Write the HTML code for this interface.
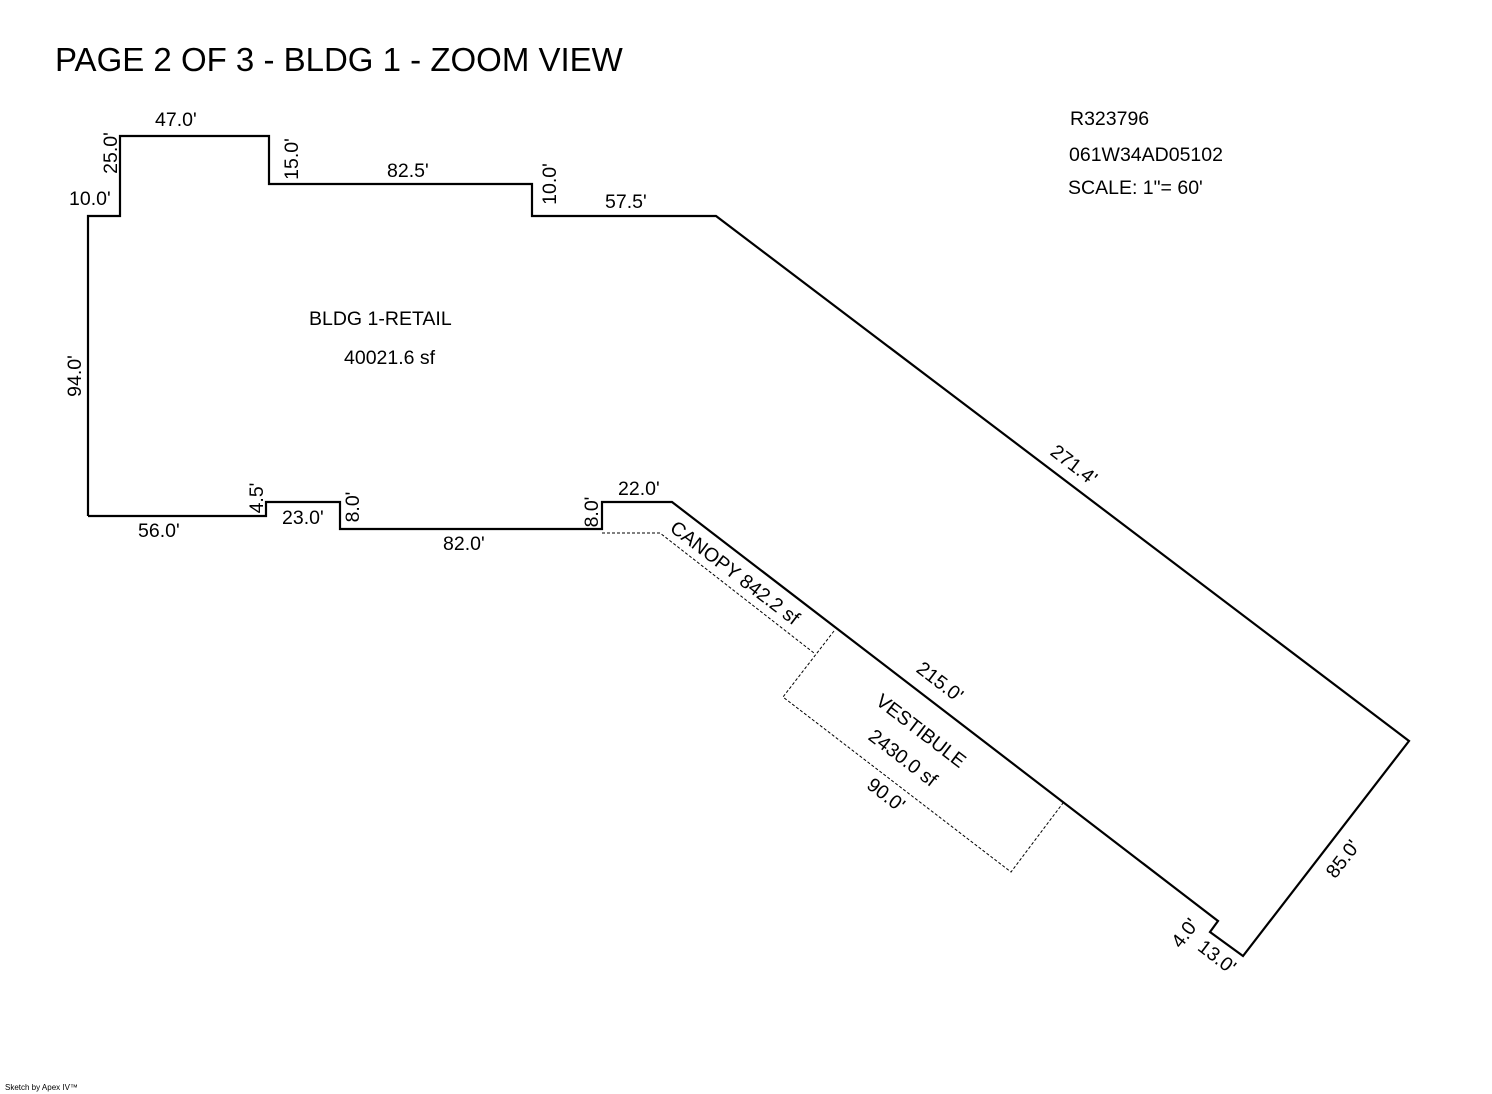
<!DOCTYPE html>
<html><head><style>
body{margin:0;background:#fff;}
svg{display:block;font-family:"Liberation Sans",Arial,sans-serif;}
text{font-size:19.5px;fill:#000;}
</style></head><body>
<svg width="1492" height="1094" viewBox="0 0 1492 1094" xmlns="http://www.w3.org/2000/svg">
<text x="55" y="71" style="font-size:33px">PAGE 2 OF 3 - BLDG 1 - ZOOM VIEW</text>
<text x="1070" y="125">R323796</text>
<text x="1069" y="161">061W34AD05102</text>
<text x="1068" y="194">SCALE: 1"= 60'</text>
<polyline fill="none" stroke="#000" stroke-width="2.2" points="88,516 88,216 120,216 120,136 269,136 269,184 532,184 532,216 716,216 1409,741 1243,956 1210,932 1218,921 672,502 602,502 602,529 340,529 340,502 266,502 266,516 88,516"/>
<g fill="none" stroke="#000" stroke-width="1" stroke-dasharray="3,2">
<polyline points="602,533 660,533 814,653"/>
<polyline points="834,631 783,697 1011,872 1063,803"/>
</g>
<text x="155" y="126">47.0'</text>
<text x="387" y="177">82.5'</text>
<text x="605" y="208">57.5'</text>
<text x="69" y="205">10.0'</text>
<text x="138" y="537">56.0'</text>
<text x="282" y="524">23.0'</text>
<text x="443" y="550">82.0'</text>
<text x="618" y="495">22.0'</text>
<text x="309" y="325">BLDG 1-RETAIL</text>
<text x="344" y="364">40021.6 sf</text>
<g text-anchor="middle">
<text transform="translate(117,153) rotate(-90)">25.0'</text>
<text transform="translate(298,159) rotate(-90)">15.0'</text>
<text transform="translate(556,184) rotate(-90)">10.0'</text>
<text transform="translate(81,376) rotate(-90)">94.0'</text>
<text transform="translate(263,498) rotate(-90)">4.5'</text>
<text transform="translate(359,507) rotate(-90)">8.0'</text>
<text transform="translate(598,512) rotate(-90)">8.0'</text>
<text transform="translate(1070,470) rotate(37.5)">271.4'</text>
<text transform="translate(731,578) rotate(37.5)">CANOPY 842.2 sf</text>
<text transform="translate(936,687) rotate(37.5)">215.0'</text>
<text transform="translate(917,736) rotate(37.5)">VESTIBULE</text>
<text transform="translate(899,763) rotate(37.5)">2430.0 sf</text>
<text transform="translate(882,800) rotate(37.5)">90.0'</text>
<text transform="translate(1348,863) rotate(-52.5)">85.0'</text>
<text transform="translate(1190,937) rotate(-52.5)">4.0'</text>
<text transform="translate(1213,962) rotate(37.5)">13.0'</text>
</g>
<text x="5" y="1090" style="font-size:8px">Sketch by Apex IV™</text>
</svg>
</body></html>
